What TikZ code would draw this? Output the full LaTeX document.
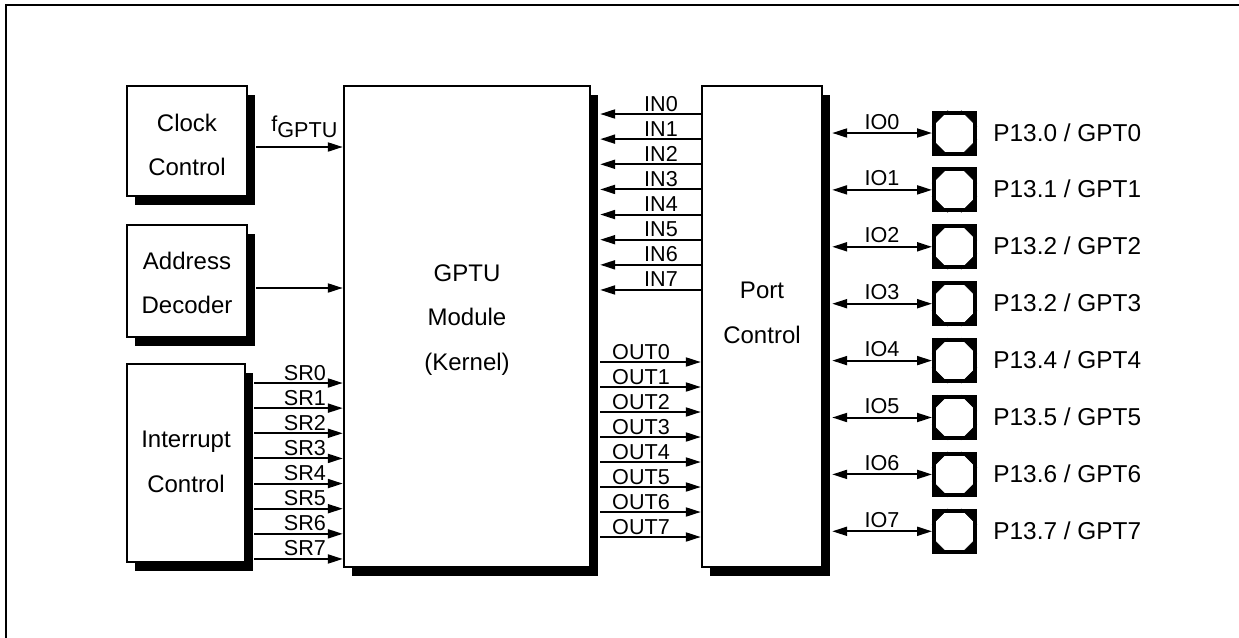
\documentclass[tikz,border=0pt]{standalone}
\usepackage{fontspec}
\setmainfont{Liberation Sans}
\usetikzlibrary{arrows.meta,shadows}
\begin{document}
\begin{tikzpicture}[x=0.5pt,y=-0.5pt,
  blk/.style={draw,line width=1.2pt,fill=white,align=center,inner sep=0pt,
    font=\fontsize{12}{21.5}\selectfont,
    drop shadow={shadow xshift=4pt,shadow yshift=-4.5pt,opacity=1,fill=black}},
  btxt/.style={align=center,inner sep=0pt,font=\fontsize{12}{22.3}\selectfont},
  sig/.style={line width=1pt,-{Triangle[length=7.5pt,width=4.5pt]}},
  bsig/.style={line width=1pt,{Triangle[length=7.5pt,width=4.5pt]}-{Triangle[length=7.5pt,width=4.5pt]}},
  lbl/.style={font=\fontsize{10.8}{12}\selectfont,anchor=base,inner sep=0pt},
  pad/.style={draw,line width=2pt,minimum size=20.5pt,inner sep=0pt},
  tick/.style={line width=0.3pt},
  plbl/.style={font=\fontsize{12.2}{14}\selectfont,anchor=base west,inner sep=0pt}]
\useasboundingbox (0,0) rectangle (1239,638);
% frame
\draw[line width=0.6pt] (6,638) -- (6,5) -- (1239,5);
% blocks
\node[blk,minimum width=60pt,minimum height=55pt] (clk) at (187,141) {};
\node[btxt] (clklbl) at (187,145) {Clock\\Control};
\node[blk,minimum width=60pt,minimum height=56pt] (adr) at (187,281) {};
\node[btxt] (adrlbl) at (187,283) {Address\\Decoder};
\node[blk,minimum width=59pt,minimum height=99pt] (irq) at (186,463) {};
\node[btxt] (irqlbl) at (186,462) {Interrupt\\Control};
\node[blk,minimum width=123pt,minimum height=240.5pt] (gptu) at (467,326.5) {};
\node[btxt] (gptulbl) at (467,320) {GPTU\\Module\\(Kernel)};
\node[blk,minimum width=60pt,minimum height=240.5pt] (port) at (762,326.5) {};
\node[btxt] (portlbl) at (762,313) {Port\\Control};
% shadow edges
\coordinate (clkS) at ([xshift=4pt]clk.east);
\coordinate (adrS) at ([xshift=4pt]adr.east);
\coordinate (irqS) at ([xshift=4pt]irq.east);
\coordinate (gptuS) at ([xshift=4.5pt]gptu.east);
\coordinate (portS) at ([xshift=4.5pt]port.east);
% clock and address
\draw[sig] (clkS |- 0,147) -- (gptu.west |- 0,147);
\node[anchor=base west,inner sep=0pt,font=\fontsize{10.8}{12}\selectfont] (fg) at (271,131) {f\raisebox{-3pt}{GPTU}};
\draw[sig] (adrS |- 0,288) -- (gptu.west |- 0,288);
% SR lines
\foreach \i in {0,...,7} {
  \pgfmathsetmacro\yy{383+25.14*\i}
  \draw[sig] (irqS |- 0,\yy) -- (gptu.west |- 0,\yy);
  \node[lbl] (sr\i) at (305,\yy-3) {SR\i};
}
% IN lines
\foreach \i in {0,...,7} {
  \pgfmathsetmacro\yy{114+25.14*\i}
  \draw[sig] (port.west |- 0,\yy) -- (gptuS |- 0,\yy);
  \node[lbl] (in\i) at (661,\yy-3) {IN\i};
}
% OUT lines
\foreach \i in {0,...,7} {
  \pgfmathsetmacro\yy{362+25*\i}
  \draw[sig] (gptuS |- 0,\yy) -- (port.west |- 0,\yy);
  \node[lbl] (out\i) at (641,\yy-3) {OUT\i};
}
% pads
\foreach \i/\k in {0/0,1/1,2/2,3/2,4/4,5/5,6/6,7/7} {
  \pgfmathsetmacro\yy{133+56.9*\i}
  \node[pad] (pd\i) at (954.5,\yy) {};
  \fill (954.5-20.5,\yy-20.5) -- ++(12,0) -- ++(-12,12) -- cycle;
  \fill (954.5+20.5,\yy-20.5) -- ++(-12,0) -- ++(12,12) -- cycle;
  \fill (954.5-20.5,\yy+20.5) -- ++(12,0) -- ++(-12,-12) -- cycle;
  \fill (954.5+20.5,\yy+20.5) -- ++(-12,0) -- ++(12,-12) -- cycle;
  \draw[tick] (954.5-20.5+14,\yy-20.5-2) -- ++(-16,16);
  \draw[tick] (954.5+20.5-14,\yy-20.5-2) -- ++(16,16);
  \draw[tick] (954.5-20.5+14,\yy+20.5+2) -- ++(-16,-16);
  \draw[tick] (954.5+20.5-14,\yy+20.5+2) -- ++(16,-16);
  \draw[bsig] (portS |- pd\i.west) -- (pd\i.west);
  \node[lbl] (io\i) at (882,\yy-4) {IO\i};
  \node[plbl] (pl\i) at (993,\yy+8) {P13.\k{} / GPT\i};
}
\end{tikzpicture}
\end{document}
